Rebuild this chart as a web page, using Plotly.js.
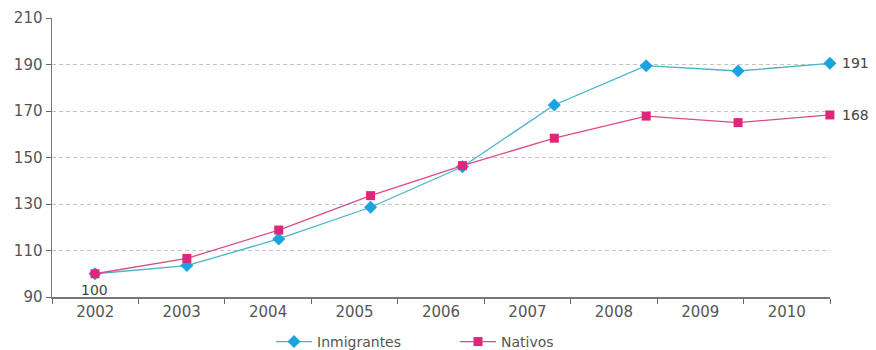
<!DOCTYPE html>
<html>
<head>
<meta charset="utf-8">
<script src="https://cdn.plot.ly/plotly-3.0.1.min.js"></script>
<style>html,body{margin:0;padding:0;background:#fff;}#chart{width:876px;height:350px;}</style>
</head>
<body>
<div id="chart"></div>
<script>
const years = ["2002","2003","2004","2005","2006","2007","2008","2009","2010"];
const inmigrantes = [100, 103.5, 115, 128.6, 146, 172.6, 189.5, 187.2, 190.5];
const nativos = [100, 106.6, 118.8, 133.6, 146.5, 158.3, 167.8, 165, 168.3];
const seriesNames = ["Inmigrantes", "Nativos"];
const endLabels = ["191", "168"];
const startLabel = "100";

const font = "DejaVu Sans, Arial, sans-serif";
const idx = years.map((_, i) => i);

const traces = [
  {
    x: idx, y: inmigrantes, name: seriesNames[0], type: "scatter", mode: "lines+markers",
    line: {color: "#45b5cc", width: 1.3},
    marker: {symbol: "diamond", size: 10, color: "#1aa3df"},
    cliponaxis: false, xaxis: "x", yaxis: "y"
  },
  {
    x: idx, y: nativos, name: seriesNames[1], type: "scatter", mode: "lines+markers",
    line: {color: "#d94c86", width: 1.3},
    marker: {symbol: "square", size: 9, color: "#e0257a"},
    cliponaxis: false, xaxis: "x", yaxis: "y"
  },
  {
    x: years, y: years.map(() => null), type: "scatter", mode: "lines",
    showlegend: false, hoverinfo: "skip", xaxis: "x2", yaxis: "y"
  }
];

const layout = {
  width: 876, height: 350,
  margin: {l: 52, r: 46, t: 18, b: 53, autoexpand: false},
  paper_bgcolor: "#fff", plot_bgcolor: "#fff",
  font: {family: font, size: 14, color: "#555"},
  showlegend: true,
  legend: {orientation: "h", x: 0.518, xanchor: "center", yref: "container", y: 0.023, yanchor: "middle",
           font: {family: font, size: 14, color: "#555"}, entrywidth: 133, entrywidthmode: "pixels",
           itemwidth: 36, tracegroupgap: 0},
  xaxis: {
    type: "linear", range: [-0.468, 8.001], visible: false, showgrid: false, zeroline: false
  },
  xaxis2: {
    type: "category", categoryarray: years, range: [-0.5, 8.5], overlaying: "x",
    side: "bottom", anchor: "y", automargin: false,
    tickson: "boundaries", ticks: "outside", ticklen: 5, tickcolor: "#666", tickwidth: 1,
    showline: true, linecolor: "#777", linewidth: 1.5, showgrid: false, zeroline: false,
    tickfont: {family: font, size: 15, color: "#555"}
  },
  yaxis: {
    range: [90, 210], dtick: 20, tick0: 90, ticks: "outside", ticklen: 5, tickcolor: "#666",
    showline: true, linecolor: "#777", linewidth: 1.5, automargin: false,
    showgrid: true, gridcolor: "#c4c4c4", griddash: "4px,3px", gridwidth: 1, zeroline: false,
    tickfont: {family: font, size: 15, color: "#555"}
  },
  annotations: [
    {x: 0, y: inmigrantes[0], xref: "x", yref: "y", text: startLabel, showarrow: false,
     yshift: -16, font: {family: font, size: 14, color: "#444"}},
    {x: 8, y: inmigrantes[8], xref: "x", yref: "y", text: endLabels[0], showarrow: false,
     xanchor: "left", xshift: 10, font: {family: font, size: 14, color: "#444"}},
    {x: 8, y: nativos[8], xref: "x", yref: "y", text: endLabels[1], showarrow: false,
     xanchor: "left", xshift: 10, font: {family: font, size: 14, color: "#444"}}
  ]
};

Plotly.newPlot("chart", traces, layout, {displayModeBar: false, staticPlot: true});
</script>
</body>
</html>
